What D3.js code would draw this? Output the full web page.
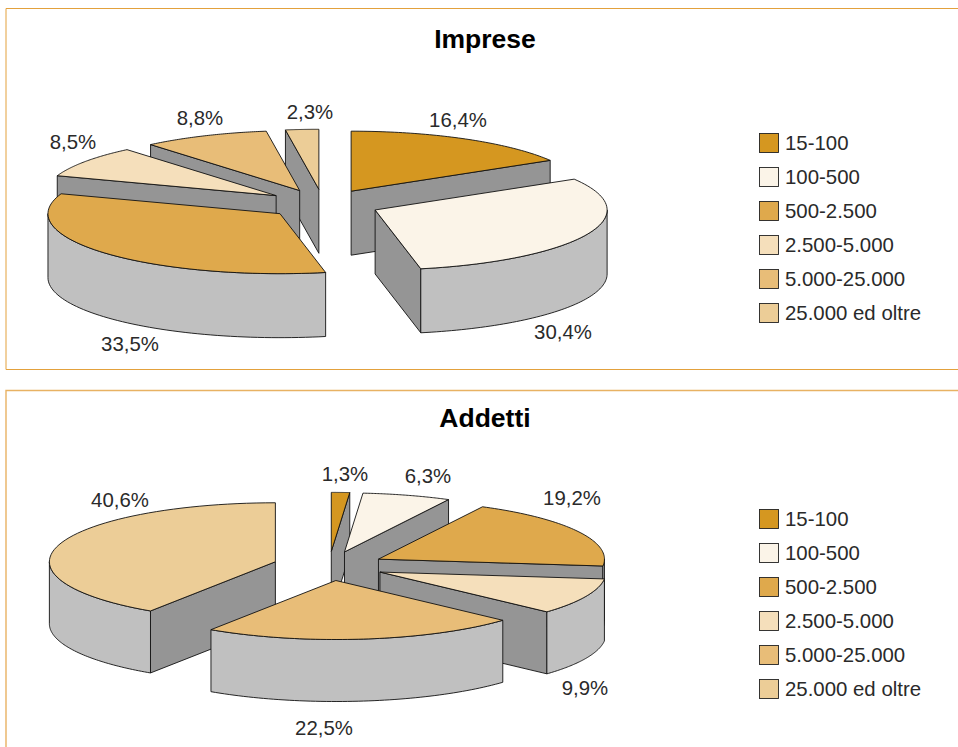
<!DOCTYPE html>
<html><head><meta charset="utf-8">
<style>html,body{margin:0;padding:0;background:#fff}svg{display:block}text{font-family:"Liberation Sans",Arial,sans-serif}</style>
<script src="https://cdn.jsdelivr.net/npm/d3@7/dist/d3.min.js"></script>
</head><body><svg id="c" width="958" height="747"></svg>
<script>
const categories = ["15-100","100-500","500-2.500","2.500-5.000","5.000-25.000","25.000 ed oltre"];
const impreseValues = [16.4,30.4,33.5,8.5,8.8,2.3];
const addettiValues = [1.3,6.3,19.2,9.9,22.5,40.6];
const impreseLabels = ["16,4%","30,4%","33,5%","8,5%","8,8%","2,3%"];
const addettiLabels = ["1,3%","6,3%","19,2%","9,9%","22,5%","40,6%"];
const colors = ["#d59720","#fbf4e8","#dfa94c","#f5dfbb","#e8bd78","#eccd97"];

const svg = d3.select("#c");
function panel(top,bottom,color,w){
  const p = d3.path();
  p.moveTo(958,top);p.lineTo(6,top);p.lineTo(6,bottom);
  if(bottom<747)p.lineTo(958,bottom);
  svg.append("path").attr("d",p.toString()).attr("fill","none").attr("stroke",color).attr("stroke-width",w);
}
panel(8.5,369.5,"#e3a13c",1);
panel(390.5,760,"#e8b263",1.4);

function pie3d(cfg){
  const g = svg.append("g");
  const angles = d3.pie().sort(null).value(d=>d)(cfg.values);
  const k = cfg.ry/cfg.rx;
  const line = d3.line();
  const arcPts = (o,a,b,dy,n=60)=>d3.range(n+1).map(i=>{
    const t=a+(b-a)*i/n;
    return [o[0]+cfg.rx*Math.sin(t),o[1]-cfg.ry*Math.cos(t)+dy];
  });
  const items = angles.map((s,i)=>{
    const m=(s.startAngle+s.endAngle)/2;
    const o=[cfg.cx+cfg.explode*Math.sin(m),cfg.cy-cfg.explode*k*Math.cos(m)];
    return {s,i,m,o};
  }).sort((a,b)=>a.o[1]-b.o[1]);
  const HP=Math.PI/2;
  function draw(d,fill){
    g.append("path").attr("d",line(d)+"Z").attr("fill",fill)
      .attr("stroke","#111").attr("stroke-width",0.9).attr("stroke-linejoin","round");
  }
  items.forEach(it=>{
    const a=it.s.startAngle,b=it.s.endAngle,o=it.o;
    const face=t=>{
      const r=[o[0]+cfg.rx*Math.sin(t),o[1]-cfg.ry*Math.cos(t)];
      draw([o,r,[r[0],r[1]+cfg.depth],[o[0],o[1]+cfg.depth]],"#959595");
    };
    if(Math.sin(a)<-1e-6)face(a);
    if(Math.sin(b)>1e-6)face(b);
    const wa=Math.max(a,HP),wb=Math.min(b,3*HP);
    if(wb>wa){
      const top=arcPts(o,wa,wb,0), bot=arcPts(o,wa,wb,cfg.depth).reverse();
      draw(top.concat(bot),"#c0c0c0");
    }
    draw([o].concat(arcPts(o,a,b,0)),colors[it.i]);
  });
  cfg.labelPos.forEach((p,i)=>{
    svg.append("text").attr("x",p[0]).attr("y",p[1]).attr("text-anchor","middle")
      .attr("font-size",20.4).attr("fill","#2a2a2a").text(cfg.labels[i]);
  });
  svg.append("text").attr("x",cfg.titleX).attr("y",cfg.titleY).attr("text-anchor","middle")
    .attr("font-size",26.5).attr("font-weight","bold").attr("fill","#000").text(cfg.title);
  const ly=d3.scalePoint().domain(categories).range([cfg.legendTop,cfg.legendTop+170]);
  categories.forEach((c,i)=>{
    svg.append("rect").attr("x",759.5).attr("y",ly(c)-9.5).attr("width",19).attr("height",19)
      .attr("fill",colors[i]).attr("stroke","#222").attr("stroke-width",0.9);
    svg.append("text").attr("x",785).attr("y",ly(c)+7).attr("font-size",20.4).attr("fill","#2a2a2a").text(c);
  });
}
pie3d({title:"Imprese",titleX:485,titleY:48,values:impreseValues,labels:impreseLabels,
  cx:323,cy:204,rx:232,ry:60,depth:64,explode:57,legendTop:143,
  labelPos:[[458,127],[563,339],[130,351],[73,149],[200,125],[310,119]]});
pie3d({title:"Addetti",titleX:485,titleY:427,values:addettiValues,labels:addettiLabels,
  cx:329,cy:566,rx:226,ry:59,depth:62,explode:56,legendTop:519,
  labelPos:[[345,481],[428,483],[572,505],[585,695],[324,735],[120,507]]});
</script></body></html>
